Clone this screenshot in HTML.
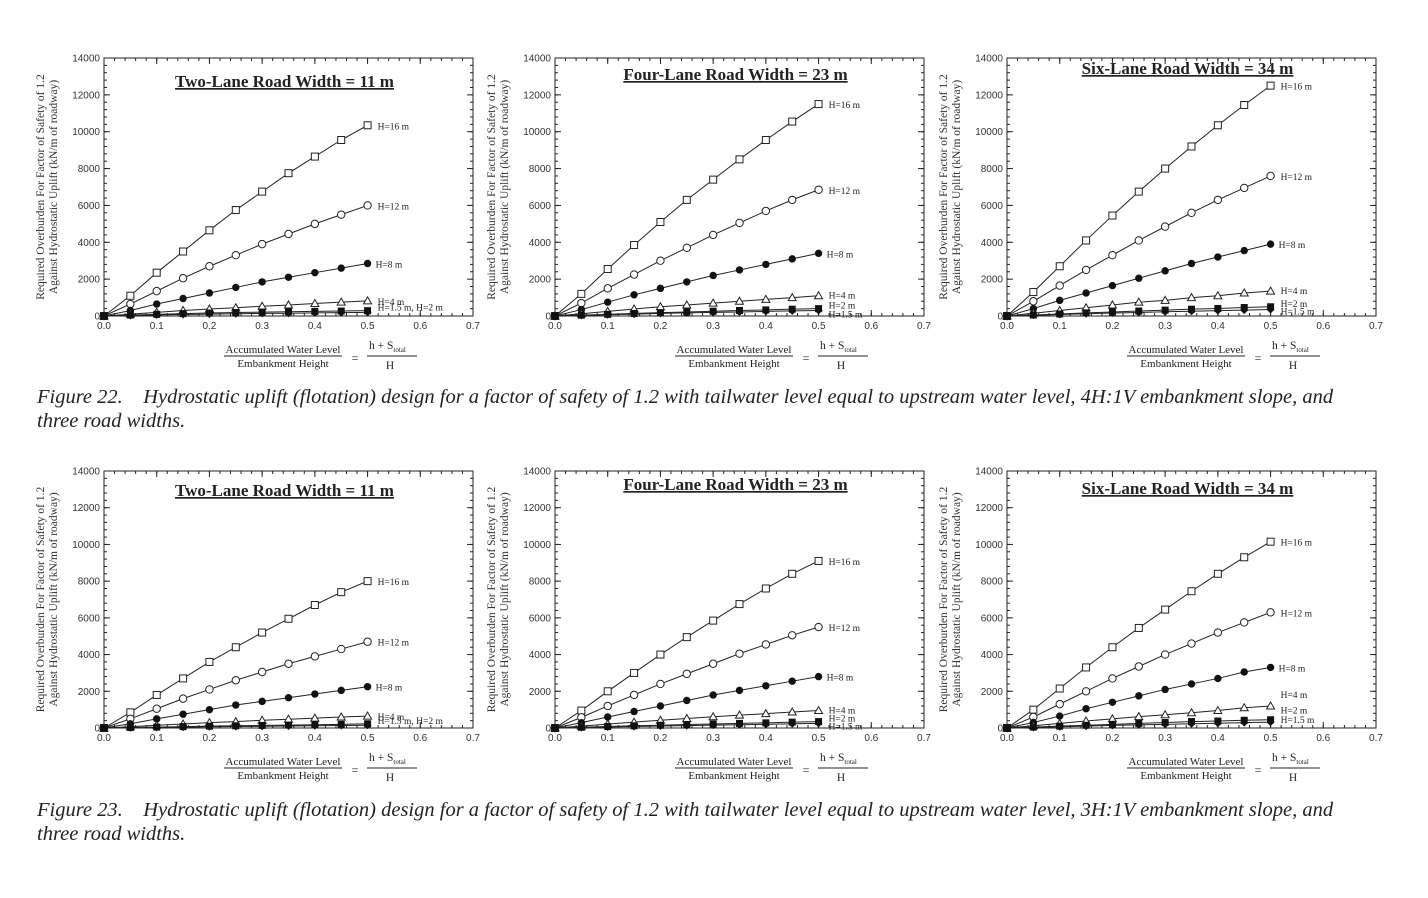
<!DOCTYPE html>
<html><head><meta charset="utf-8">
<style>
body{margin:0;background:#fff;width:1428px;height:898px;overflow:hidden;font-family:"Liberation Serif",serif}
.cap{position:absolute;left:37px;font-style:italic;font-size:20.5px;color:#222;line-height:24px;width:1340px}
</style></head>
<body>
<svg id="chart" width="1428" height="898" style="position:absolute;left:0;top:0"></svg>
<div class="cap" style="top:385px">Figure 22.&nbsp;&nbsp;&nbsp; Hydrostatic uplift (flotation) design for a factor of safety of 1.2 with tailwater level equal to upstream water level, 4H:1V embankment slope, and three road widths.</div>
<div class="cap" style="top:798px">Figure 23.&nbsp;&nbsp;&nbsp; Hydrostatic uplift (flotation) design for a factor of safety of 1.2 with tailwater level equal to upstream water level, 3H:1V embankment slope, and three road widths.</div>
<script>
const xValues=[0,0.05,0.1,0.15,0.2,0.25,0.3,0.35,0.4,0.45,0.5];
const seriesNames=["H=16 m","H=12 m","H=8 m","H=4 m","H=2 m","H=1.5 m"];
const panelTitles=["Two-Lane Road Width = 11 m","Four-Lane Road Width = 23 m","Six-Lane Road Width = 34 m","Two-Lane Road Width = 11 m","Four-Lane Road Width = 23 m","Six-Lane Road Width = 34 m"];
const xTicks=[0,0.1,0.2,0.3,0.4,0.5,0.6,0.7];
const xTickLabels=["0.0","0.1","0.2","0.3","0.4","0.5","0.6","0.7"];
const yTicks=[0,2000,4000,6000,8000,10000,12000,14000];
const p1=[[0,1100,2350,3500,4650,5750,6750,7750,8650,9550,10350],[0,650,1350,2050,2700,3300,3900,4450,5000,5500,6000],[0,300,650,950,1250,1550,1850,2100,2350,2600,2850],[0,100,200,300,380,450,530,600,680,750,820],[0,50,90,130,160,190,210,230,250,270,290],[0,30,60,80,100,120,140,150,170,180,200]];
const p2=[[0,1200,2550,3850,5100,6300,7400,8500,9550,10550,11500],[0,700,1500,2250,3000,3700,4400,5050,5700,6300,6850],[0,350,750,1150,1500,1850,2200,2500,2800,3100,3400],[0,120,250,380,500,600,700,800,900,1000,1100],[0,45,90,140,180,220,260,300,330,370,400],[0,30,70,100,140,170,200,220,250,280,300]];
const p3=[[0,1300,2700,4100,5450,6750,8000,9200,10350,11450,12500],[0,800,1650,2500,3300,4100,4850,5600,6300,6950,7600],[0,400,850,1250,1650,2050,2450,2850,3200,3550,3900],[0,150,300,450,600,750,850,1000,1100,1250,1350],[0,55,110,170,220,270,320,370,410,460,500],[0,40,80,120,160,190,230,260,290,320,350]];
const p4=[[0,850,1800,2700,3600,4400,5200,5950,6700,7400,8000],[0,500,1050,1600,2100,2600,3050,3500,3900,4300,4700],[0,230,500,750,1000,1250,1450,1650,1850,2050,2250],[0,70,150,220,290,350,420,480,540,600,650],[0,25,50,75,100,120,140,160,180,200,230],[0,15,35,50,65,80,95,110,120,135,150]];
const p5=[[0,950,2000,3000,4000,4950,5850,6750,7600,8400,9100],[0,580,1200,1800,2400,2950,3500,4050,4550,5050,5500],[0,290,600,900,1200,1500,1800,2050,2300,2550,2800],[0,100,210,320,420,520,610,700,780,870,950],[0,40,80,120,150,190,220,250,280,320,350],[0,25,55,80,110,130,160,180,200,230,250]];
const p6=[[0,1000,2150,3300,4400,5450,6450,7450,8400,9300,10150],[0,600,1300,2000,2700,3350,4000,4600,5200,5750,6300],[0,300,650,1050,1400,1750,2100,2400,2700,3050,3300],[0,120,250,380,500,620,720,830,950,1100,1200],[0,50,100,150,200,250,300,350,380,420,450],[0,30,70,100,140,170,200,230,260,290,320]];
const panelData=[p1,p2,p3,p4,p5,p6];

const NS="http://www.w3.org/2000/svg";
const svg=document.getElementById('chart');
function mk(tag,attrs,parent){const e=document.createElementNS(NS,tag);for(const k in attrs)e.setAttribute(k,attrs[k]);(parent||svg).appendChild(e);return e;}
const geo=[{x:104,t:58,b:316,ty:81},{x:555,t:58,b:316,ty:74},{x:1007,t:58,b:316,ty:68},{x:104,t:471,b:728,ty:490},{x:555,t:471,b:728,ty:484},{x:1007,t:471,b:728,ty:488}];
const W=369;
const labelDy=[[4,4,4,4,0,0],[4,4,4,3,0,7],[4,4,4,3,0,5],[4,4,4,4,0,0],[4,4,4,3,0,6],[4,4,4,-8,-6,1]];
panelData.forEach((data,pi)=>{
  const g=geo[pi];
  const grp=mk('g',{});
  
  
  const X=v=>g.x+v/0.7*W, Y=v=>g.b-v/14000*(g.b-g.t);
  const frame=mk('rect',{x:g.x,y:g.t,width:W,height:g.b-g.t,fill:'none',stroke:'#222','stroke-width':1},grp);
  
  
  for(let v=0;v<=0.7001;v+=0.02){const xx=X(v);mk('line',{x1:xx,x2:xx,y1:g.b,y2:g.b-3,stroke:'#222'},grp);mk('line',{x1:xx,x2:xx,y1:g.t,y2:g.t+3,stroke:'#222'},grp);}
  for(let v=0;v<=14000;v+=400){const yy=Y(v);mk('line',{x1:g.x,x2:g.x+3,y1:yy,y2:yy,stroke:'#222'},grp);mk('line',{x1:g.x+W,x2:g.x+W-3,y1:yy,y2:yy,stroke:'#222'},grp);}
  xTicks.forEach((v,i)=>{const xx=X(v);mk('line',{x1:xx,x2:xx,y1:g.b,y2:g.b-6,stroke:'#222'},grp);mk('line',{x1:xx,x2:xx,y1:g.t,y2:g.t+6,stroke:'#222'},grp);
    const t=mk('text',{x:xx,y:g.b+13,'text-anchor':'middle','font-size':10,'font-family':'Liberation Sans, sans-serif',fill:'#333'},grp);t.textContent=xTickLabels[i];
    
    });
  yTicks.forEach(v=>{const yy=Y(v);mk('line',{x1:g.x,x2:g.x+6,y1:yy,y2:yy,stroke:'#222'},grp);mk('line',{x1:g.x+W,x2:g.x+W-6,y1:yy,y2:yy,stroke:'#222'},grp);
    const t=mk('text',{x:g.x-4,y:yy+3.5,'text-anchor':'end','font-size':10,'font-family':'Liberation Sans, sans-serif',fill:'#333'},grp);t.textContent=v;
    
    });
  const cy=(g.t+g.b)/2;
  const yt=mk('text',{transform:`translate(${g.x-60},${cy}) rotate(-90)`,'text-anchor':'middle','font-size':11.5,fill:'#333'},grp);
  
  
  mk('tspan',{x:0,y:0},yt).textContent='Required Overburden For Factor of Safety of 1.2';
  mk('tspan',{x:0,y:13},yt).textContent='Against Hydrostatic Uplift (kN/m of roadway)';
  const xt=mk('g',{},grp);
  
  
  const cx=g.x+179, ty=g.b+37;
  mk('text',{x:cx,y:ty,'text-anchor':'middle','font-size':11,fill:'#222'},xt).textContent='Accumulated Water Level';
  mk('line',{x1:cx-59,x2:cx+59,y1:ty+3,y2:ty+3,stroke:'#222'},xt);
  mk('text',{x:cx,y:ty+14,'text-anchor':'middle','font-size':11,fill:'#222'},xt).textContent='Embankment Height';
  mk('text',{x:cx+72,y:ty+9,'text-anchor':'middle','font-size':12,fill:'#222'},xt).textContent='=';
  const f=mk('text',{x:cx+86,y:ty-4,'font-size':11.5,fill:'#222'},xt);f.textContent='h + S';
  mk('tspan',{'font-size':7,dy:3},f).textContent='total';
  mk('line',{x1:cx+84,x2:cx+134,y1:ty+3,y2:ty+3,stroke:'#222'},xt);
  mk('text',{x:cx+107,y:ty+16,'text-anchor':'middle','font-size':11.5,fill:'#222'},xt).textContent='H';
  const tt=mk('text',{x:g.x+W/2-4,y:g.ty+6,'text-anchor':'middle','font-size':17,'font-weight':'bold','text-decoration':'underline',fill:'#222'},grp);
  tt.textContent=panelTitles[pi];
  
  
  data.forEach((vals,si)=>{
    const sg=mk('g',{},grp);
    
    
    mk('polyline',{points:vals.map((v,i)=>X(xValues[i])+','+Y(v)).join(' '),fill:'none',stroke:'#222','stroke-width':1},sg);
    vals.forEach((v,i)=>{const px=X(xValues[i]),py=Y(v);let m;
      if(si===0)m=mk('rect',{x:px-3.5,y:py-3.5,width:7,height:7,fill:'#fff',stroke:'#222'},sg);
      else if(si===1)m=mk('circle',{cx:px,cy:py,r:3.7,fill:'#fff',stroke:'#222'},sg);
      else if(si===2)m=mk('circle',{cx:px,cy:py,r:3.7,fill:'#111'},sg);
      else if(si===3)m=mk('polygon',{points:`${px},${py-4} ${px+4},${py+3} ${px-4},${py+3}`,fill:'#fff',stroke:'#222'},sg);
      else if(si===4)m=mk('rect',{x:px-3.5,y:py-3.5,width:7,height:7,fill:'#111'},sg);
      else m=mk('polygon',{points:`${px},${py-4} ${px+4},${py} ${px},${py+4} ${px-4},${py}`,fill:'#111'},sg);
      
      
    });
    let label=seriesNames[si];
    if((pi===0||pi===3)&&si===5) return;
    if((pi===0||pi===3)&&si===4) label='H=1.5 m, H=2 m';
    const lx=X(0.5)+(si===2?8:10), ly=Y(vals[vals.length-1])+labelDy[pi][si];
    const lt=mk('text',{x:lx,y:ly,'font-size':9.5,fill:'#222'},sg);lt.textContent=label;
    
    
  });
});
</script>
</body></html>
